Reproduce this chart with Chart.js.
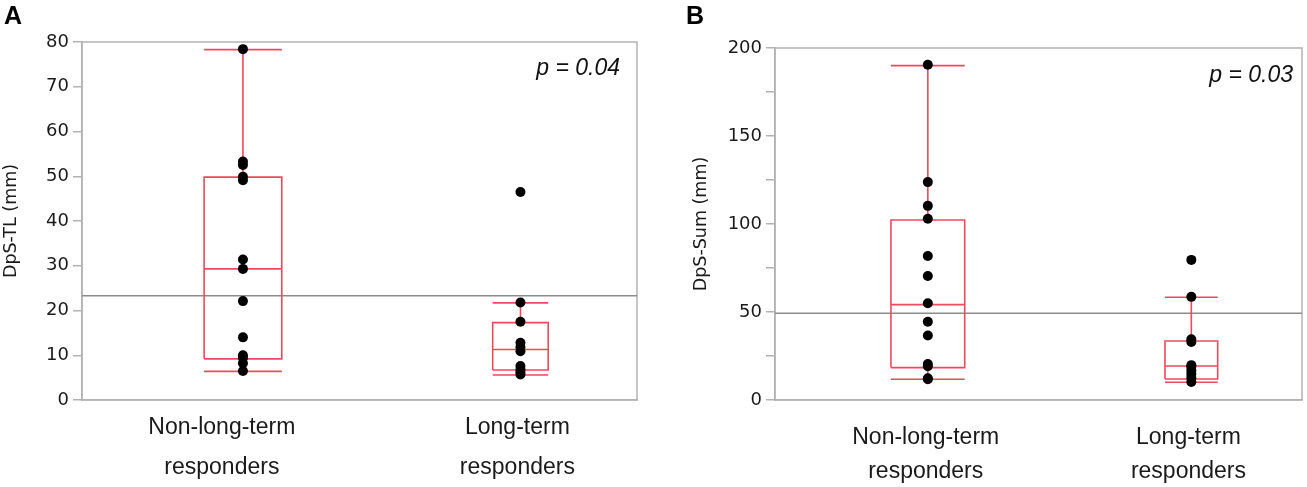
<!DOCTYPE html>
<html>
<head>
<meta charset="utf-8">
<script src="https://cdn.jsdelivr.net/npm/chart.js@4.4.1/dist/chart.umd.min.js"></script>
<style>
body { margin: 0; background: #fff; }
#contenedor { position: relative; width: 1307px; height: 487px; overflow: hidden; }
.panel { position: absolute; top: 0; height: 487px; }
.letra { position: absolute; font: bold 25px "Liberation Sans", Arial, sans-serif; line-height: 1; color: #000; }
.pvalor { position: absolute; font: italic 23px "Liberation Sans", Arial, sans-serif; line-height: 1; color: #111; white-space: nowrap; }
</style>
</head>
<body>
<div id="contenedor">
   <div class="panel" style="left:0;width:650px"><canvas id="chartTL" width="650" height="487"></canvas></div>
   <div class="panel" style="left:650px;width:657px"><canvas id="chartSum" width="657" height="487"></canvas></div>
   <div class="letra" style="left:4px;top:3px">A</div>
   <div class="letra" style="left:686px;top:3px">B</div>
   <div class="pvalor" id="pTL" style="right:687px;top:56px"></div>
   <div class="pvalor" id="pSum" style="right:14px;top:63px"></div>
</div>
<script>
var categorias = [['Non-long-term', 'responders'], ['Long-term', 'responders']]

// DpS-TL (mm)
var tlNoLargo = [78.4, 53.3, 52.5, 49.9, 49.1, 31.4, 29.3, 22.1, 14.0, 10.0, 9.4, 8.2, 6.5]
var tlLargo = [46.5, 21.8, 17.5, 12.8, 11.8, 10.9, 7.6, 6.8, 6.2, 5.7]
// [bigote inferior, Q1, mediana, Q3, bigote superior]
var tlCajaNoLargo = [6.4, 9.2, 29.3, 49.8, 78.3]
var tlCajaLargo = [5.6, 6.7, 11.3, 17.3, 21.7]
var tlMedia = 23.3
var tlTicks = [0, 10, 20, 30, 40, 50, 60, 70, 80]
var tlP = 'p = 0.04'

// DpS-Sum (mm)
var sumNoLargo = [190.5, 123.8, 110.3, 103.0, 81.8, 70.5, 55.0, 44.5, 36.6, 20.4, 19.2, 12.4, 11.8]
var sumLargo = [79.6, 58.6, 34.5, 33.0, 19.8, 18.8, 16.8, 14.8, 12.6, 10.2]
var sumCajaNoLargo = [11.8, 18.4, 54.2, 102.3, 190.0]
var sumCajaLargo = [10.1, 11.9, 19.3, 33.5, 58.4]
var sumMedia = 49.3
var sumTicks = [0, 25, 50, 75, 100, 125, 150, 175, 200]
var sumP = 'p = 0.03'

var posX = [1, 2]
var anchoCaja = [0.14, 0.10]
var xMin = 0.42
var xMax = 2.42

var rojo = '#ee4a5e'
var gris = '#b3b3b3'
var texto = '#1a1a1a'

function puntosGrupo(valores, x){
   return valores.map(function(v){ return {x: x, y: v} })
}

function lineasCaja(caja, x, w){
   var bajo = caja[0], q1 = caja[1], med = caja[2], q3 = caja[3], alto = caja[4]
   var corte = {x: x, y: null}
   return [
      {x: x - w, y: q1}, {x: x + w, y: q1}, {x: x + w, y: q3}, {x: x - w, y: q3}, {x: x - w, y: q1}, corte,
      {x: x - w, y: med}, {x: x + w, y: med}, corte,
      {x: x, y: q3}, {x: x, y: alto}, corte,
      {x: x - w, y: alto}, {x: x + w, y: alto}, corte,
      {x: x, y: q1}, {x: x, y: bajo}, corte,
      {x: x - w, y: bajo}, {x: x + w, y: bajo}
   ]
}

// marco gris alrededor del area del grafico
var marco = {
   id: 'marco',
   beforeDatasetsDraw: function(chart){
      var a = chart.chartArea
      var ctx = chart.ctx
      ctx.save()
      ctx.strokeStyle = gris
      ctx.lineWidth = 1.5
      ctx.strokeRect(a.left, a.top, a.right - a.left, a.bottom - a.top)
      ctx.restore()
   }
}

function crearGrafico(canvasId, cfg){
   var puntos = {pointRadius: 5, pointBackgroundColor: '#000', pointBorderWidth: 0, showLine: false, order: 0}
   var lineas = {showLine: true, pointRadius: 0, borderColor: rojo, borderWidth: 1.6, spanGaps: false, borderJoinStyle: 'miter', order: 1}

   var ctx = document.getElementById(canvasId).getContext('2d')
   return new Chart(ctx, {
      type: 'scatter',
      data: {
         datasets: [
            Object.assign({data: puntosGrupo(cfg.grupo1, posX[0])}, puntos),
            Object.assign({data: puntosGrupo(cfg.grupo2, posX[1])}, puntos),
            Object.assign({data: lineasCaja(cfg.caja1, posX[0], anchoCaja[0])}, lineas),
            Object.assign({data: lineasCaja(cfg.caja2, posX[1], anchoCaja[1])}, lineas),
            {data: [{x: xMin, y: cfg.media}, {x: xMax, y: cfg.media}], showLine: true, pointRadius: 0,
             borderColor: '#8c8c8c', borderWidth: 1.5, order: 2}
         ]
      },
      options: {
         responsive: false,
         animation: false,
         layout: {padding: cfg.relleno},
         plugins: {legend: {display: false}, tooltip: {enabled: false}},
         scales: {
            x: {
               type: 'linear', min: xMin, max: xMax,
               afterBuildTicks: function(eje){ eje.ticks = cfg.posEtiqueta.map(function(v){ return {value: v} }) },
               afterFit: function(eje){ eje.height = 87 },
               grid: {display: false},
               border: {display: true, color: gris, width: 1.5},
               ticks: {
                  autoSkip: false, maxRotation: 0, minRotation: 0,
                  padding: cfg.padX, color: texto,
                  font: {family: 'Liberation Sans', size: 23, lineHeight: cfg.altoLinea},
                  callback: function(valor, i){ return categorias[i] }
               }
            },
            y: {
               min: cfg.ticks[0], max: cfg.ticks[cfg.ticks.length - 1],
               afterBuildTicks: function(eje){ eje.ticks = cfg.ticks.map(function(v){ return {value: v} }) },
               afterFit: function(eje){ eje.width = cfg.anchoY },
               grid: {drawOnChartArea: false, drawTicks: true, tickLength: 9, color: gris, lineWidth: 1.5},
               border: {display: true, color: gris, width: 1.5},
               ticks: {padding: 4, color: texto, font: {family: 'DejaVu Sans', size: 18}, callback: cfg.etiquetaY},
               title: {display: true, text: cfg.tituloY, color: texto,
                       font: {family: 'DejaVu Sans', size: 17.5}, padding: {top: cfg.padTitulo, bottom: 0}}
            }
         }
      },
      plugins: [marco]
   })
}

var graficoTL = crearGrafico('chartTL', {
   grupo1: tlNoLargo, grupo2: tlLargo, caja1: tlCajaNoLargo, caja2: tlCajaLargo,
   media: tlMedia, ticks: tlTicks, tituloY: 'DpS-TL (mm)',
   etiquetaY: function(v){ return v },
   relleno: {top: 42, right: 13, bottom: 0, left: 0},
   anchoY: 82, padTitulo: 1, padX: 0, posEtiqueta: [0.924, 1.989], altoLinea: 1.74
})

var graficoSum = crearGrafico('chartSum', {
   grupo1: sumNoLargo, grupo2: sumLargo, caja1: sumCajaNoLargo, caja2: sumCajaLargo,
   media: sumMedia, ticks: sumTicks, tituloY: 'DpS-Sum (mm)',
   etiquetaY: function(v){ return v % 50 == 0 ? v : '' },
   relleno: {top: 48, right: 2, bottom: 0, left: 0},
   anchoY: 125, padTitulo: 41, padX: 12, posEtiqueta: [0.992, 1.989], altoLinea: 1.5
})

document.getElementById('pTL').textContent = tlP
document.getElementById('pSum').textContent = sumP
</script>
</body>
</html>
